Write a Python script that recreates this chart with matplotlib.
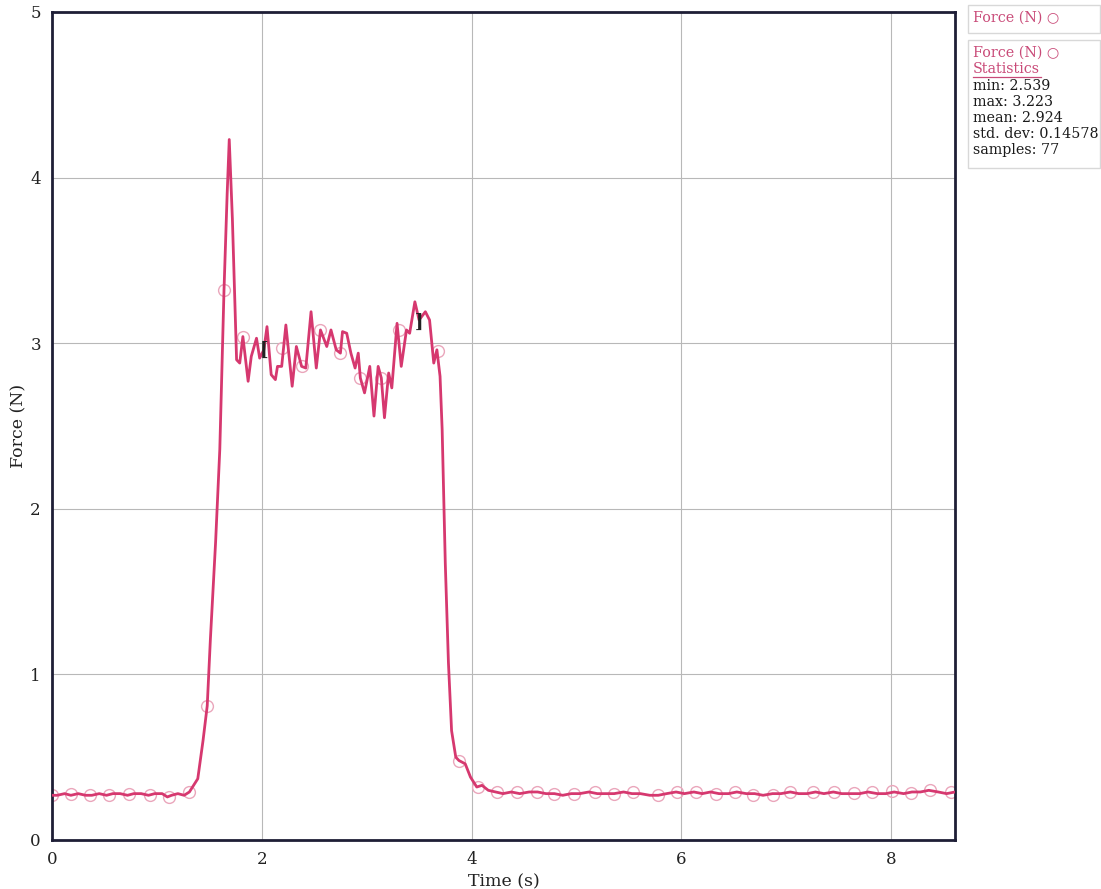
import matplotlib
matplotlib.use("Agg")
import matplotlib.pyplot as plt
from matplotlib.patches import Rectangle

# force trace (time s, force N)
time_s = [0.00, 0.05, 0.12, 0.18, 0.25, 0.32, 0.38, 0.45, 0.52, 0.58, 0.65, 0.72,
          0.78, 0.85, 0.92, 0.98, 1.05, 1.10, 1.14, 1.20, 1.26, 1.31, 1.36, 1.39,
          1.44, 1.48, 1.51, 1.56, 1.60, 1.64, 1.67, 1.69, 1.72, 1.76, 1.79, 1.82,
          1.87, 1.90, 1.95, 1.98, 2.02, 2.05, 2.09, 2.13, 2.15, 2.19, 2.23, 2.29,
          2.33, 2.38, 2.42, 2.47, 2.52, 2.56, 2.62, 2.66, 2.71, 2.75, 2.77, 2.81,
          2.85, 2.89, 2.92, 2.94, 2.98, 3.03, 3.07, 3.11, 3.14, 3.17, 3.21, 3.24,
          3.29, 3.33, 3.38, 3.41, 3.46, 3.50, 3.56, 3.60, 3.64, 3.67, 3.70, 3.72,
          3.75, 3.78, 3.81, 3.85, 3.88, 3.94, 3.99, 4.05, 4.10, 4.16, 4.23, 4.30,
          4.38, 4.46, 4.55, 4.63, 4.71, 4.79, 4.87, 4.95, 5.03, 5.12, 5.20, 5.28,
          5.36, 5.45, 5.53, 5.61, 5.70, 5.78, 5.86, 5.95, 6.03, 6.12, 6.20, 6.28,
          6.36, 6.45, 6.53, 6.62, 6.70, 6.78, 6.87, 6.95, 7.04, 7.12, 7.20, 7.28,
          7.36, 7.45, 7.53, 7.62, 7.70, 7.78, 7.87, 7.95, 8.03, 8.12, 8.20, 8.28,
          8.36, 8.45, 8.53, 8.61]
force_n = [0.27, 0.27, 0.28, 0.27, 0.28, 0.27, 0.27, 0.28, 0.27, 0.28, 0.28, 0.27,
           0.28, 0.28, 0.27, 0.28, 0.28, 0.26, 0.27, 0.28, 0.27, 0.29, 0.34, 0.37,
           0.60, 0.81, 1.21, 1.80, 2.36, 3.32, 3.90, 4.23, 3.75, 2.90, 2.88, 3.04,
           2.77, 2.92, 3.03, 2.91, 2.96, 3.10, 2.81, 2.78, 2.86, 2.86, 3.11, 2.74,
           2.98, 2.86, 2.85, 3.19, 2.85, 3.08, 2.98, 3.08, 2.96, 2.94, 3.07, 3.06,
           2.94, 2.85, 2.94, 2.79, 2.70, 2.86, 2.56, 2.86, 2.79, 2.55, 2.82, 2.73,
           3.12, 2.86, 3.08, 3.06, 3.25, 3.14, 3.19, 3.14, 2.88, 2.96, 2.80, 2.48,
           1.67, 1.07, 0.66, 0.50, 0.48, 0.46, 0.38, 0.32, 0.33, 0.30, 0.29, 0.28,
           0.29, 0.28, 0.29, 0.29, 0.28, 0.28, 0.27, 0.28, 0.28, 0.29, 0.28, 0.28,
           0.28, 0.29, 0.28, 0.28, 0.27, 0.27, 0.28, 0.29, 0.28, 0.29, 0.28, 0.29,
           0.28, 0.28, 0.29, 0.28, 0.28, 0.27, 0.28, 0.28, 0.29, 0.28, 0.28, 0.29,
           0.28, 0.29, 0.28, 0.28, 0.28, 0.29, 0.28, 0.28, 0.29, 0.28, 0.29, 0.29,
           0.30, 0.29, 0.28, 0.29]

# open circle markers (every n-th sample in the original)
mark_t = [0.00, 0.18, 0.36, 0.54, 0.73, 0.93, 1.12, 1.31, 1.48, 1.64, 1.82, 2.19,
          2.38, 2.56, 2.75, 2.94, 3.14, 3.31, 3.68, 3.88, 4.06, 4.24, 4.43, 4.62,
          4.79, 4.98, 5.18, 5.36, 5.54, 5.78, 5.96, 6.14, 6.33, 6.51, 6.68, 6.87,
          7.04, 7.26, 7.46, 7.65, 7.82, 8.01, 8.19, 8.37, 8.57]
mark_f = [0.27, 0.28, 0.27, 0.27, 0.28, 0.27, 0.26, 0.29, 0.81, 3.32, 3.04, 2.97,
          2.86, 3.08, 2.94, 2.79, 2.79, 3.08, 2.95, 0.48, 0.32, 0.29, 0.29, 0.29,
          0.28, 0.28, 0.29, 0.28, 0.29, 0.27, 0.29, 0.29, 0.28, 0.29, 0.27, 0.27,
          0.29, 0.29, 0.29, 0.285, 0.29, 0.295, 0.285, 0.30, 0.29]

# selection brackets and its statistics
sel_start = (2.02, 2.96)
sel_end = (3.50, 3.13)
stats_lines = ["min: 2.539", "max: 3.223", "mean: 2.924", "std. dev: 0.14578", "samples: 77"]

x_ticks = [0, 2, 4, 6, 8]
y_ticks = [0, 1, 2, 3, 4, 5]

line_col = "#d6386f"
mark_col = "#eaa6bb"
leg_col = "#c94a78"
serif = ["DejaVu Serif", "DejaVu Sans"]

plt.rcParams["font.family"] = serif

W, H = 1101, 889
fig = plt.figure(figsize=(W / 100, H / 100), dpi=100)
ax = fig.add_axes([52 / W, (H - 840) / H, (955 - 52) / W, (840 - 12) / H])

ax.plot(time_s, force_n, color=line_col, lw=2.0, zorder=3)
ax.plot(mark_t, mark_f, linestyle="none", marker="o", ms=8.5, mfc="none",
        mec=mark_col, mew=1.0, zorder=2)

ax.text(sel_start[0], sel_start[1], "[", ha="center", va="center", fontsize=13,
        fontweight="bold", color="#222222", zorder=4)
ax.text(sel_end[0], sel_end[1], "]", ha="center", va="center", fontsize=13,
        fontweight="bold", color="#222222", zorder=4)

ax.set_xlim(0, 8.61)
ax.set_ylim(0, 5.0)
ax.set_xticks(x_ticks)
ax.set_yticks(y_ticks)
ax.tick_params(length=0, labelsize=12, colors="#222222", pad=8)
ax.grid(True, color="#b8b8b8", lw=0.8)
ax.set_axisbelow(True)
for sp in ax.spines.values():
    sp.set_color("#1e1e36")
    sp.set_linewidth(2.0)
ax.set_xlabel("Time (s)", fontsize=12.5, color="#222222", labelpad=4)
ax.set_ylabel("Force (N)", fontsize=12.5, color="#222222", labelpad=2)

# legend panels on the right
def panel(y0, y1):
    fig.patches.append(Rectangle((968 / W, 1 - y1 / H), (1100 - 968) / W, (y1 - y0) / H,
                                 transform=fig.transFigure, fill=False,
                                 ec="#d8d8d8", lw=1.0))

panel(5, 33)
panel(40, 168)
fs = 10.3
fig.text(973 / W, 1 - 18 / H, "Force (N) \u25cb", color=leg_col, fontsize=fs,
         va="center", ha="left")
fig.text(973 / W, 1 - 53 / H, "Force (N) \u25cb", color=leg_col, fontsize=fs,
         va="center", ha="left")
fig.text(973 / W, 1 - 69 / H, "Statistics", color=leg_col, fontsize=fs,
         va="center", ha="left")
fig.add_artist(plt.Line2D([973 / W, 1041 / W], [1 - 77 / H, 1 - 77 / H],
                          transform=fig.transFigure, color=leg_col, lw=0.9))
for i, s in enumerate(stats_lines):
    fig.text(973 / W, 1 - (86 + 16 * i) / H, s, color="#1a1a1a", fontsize=fs,
             va="center", ha="left")

fig.savefig("out.png", dpi=100)
